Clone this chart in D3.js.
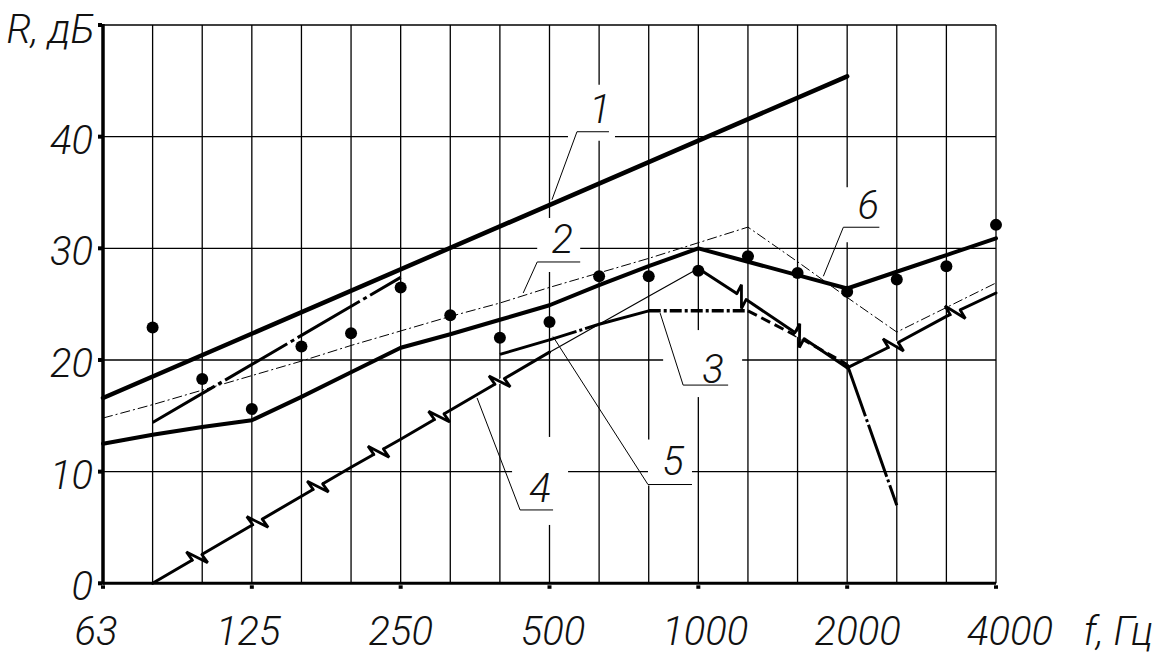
<!DOCTYPE html>
<html><head><meta charset="utf-8">
<script src="https://cdn.jsdelivr.net/npm/d3@7"></script>
<style>html,body{margin:0;padding:0;background:#fff;} svg{display:block;}</style>
</head><body>
<svg id="chart" width="1162" height="657"></svg>
<script>
// ---------- data ----------
const bands = ["63","80","100","125","160","200","250","315","400","500","630","800","1000","1250","1600","2000","2500","3150","4000"];
const xTickLabels = ["63","125","250","500","1000","2000","4000"];
const yTickValues = [0,10,20,30,40];
const yTitle = "R, дБ";
const xTitle = "f, Гц";

// curve 1 (thick straight line)
const curve1 = [["63",16.6],["2000",45.4]];
// curve 2 (thin dash-dot), one value per band
const curve2 = [14.8,16.0,17.3,18.6,19.9,21.3,22.6,23.9,25.1,26.5,27.8,29.1,30.5,31.9,28.8,25.6,22.5,24.7,26.9];
// curve 6 (thick solid), one value per band
const curve6 = [12.5,13.3,14.0,14.6,16.7,18.9,21.1,22.3,23.6,24.9,26.7,28.4,30.0,28.8,27.6,26.4,27.9,29.4,30.9];
// curve 4 (line with break marks + thin part)
const curve4a = [["80",0],["100",2.6],["125",5.2],["160",7.8],["200",10.4],["250",12.9],["315",15.5],["400",18.1],["500",20.7]];
const curve4thin = [["500",20.7],["630",23.2],["800",25.7],["1000",28.2]];
const curve4b = [["1000",28.2],["1250",25.3],["1600",22.3],["2000",19.3]];
const curve4c = [["2000",19.3],["2500",21.5],["3150",23.9],["4000",26.0]];
// curve 3 (solid / dash-dot / dashed parts)
const curve3a = [["400",20.5],["500",21.8],["630",23.2],["800",24.4]];
const curve3b = [["800",24.4],["1000",24.4],["1250",24.4]];
const curve3c = [["1250",24.4],["1600",22.1],["2000",19.6]];
const curve3d = [["2000",19.6],["2500",7.0]];
// unlabeled thick dash-dot line
const curve7 = [["80",14.4],["250",27.4]];
// measured points
const measured = [["80",22.9],["100",18.3],["125",15.6],["160",21.2],["200",22.4],["250",26.5],["315",24.0],["400",22.0],["500",23.4],["630",27.5],["800",27.5],["1000",28.0],["1250",29.3],["1600",27.8],["2000",26.1],["2500",27.2],["3150",28.4],["4000",32.1]];

// callouts: label and the point (band index, value) that its leader touches
const calloutLabels = ["1","2","3","4","5","6"];
const calloutTargets = [[9.05,34.35],[8.47,26.0],[11.23,24.2],[7.54,16.6],[9.07,22.1],[14.52,27.5]];

(function(){
// ---------- layout ----------
const W = 1162, H = 657;
const mLeft = 103, mRight = 996, mTop = 25, mBottom = 583.3;
const FONT = "Roboto, 'Liberation Sans', sans-serif";
const calloutLayout = [
  {dx:25, dy:-68, shelf:32, tx:23, ty:-9, gap:[-9,38,-47,9]},
  {dx:14, dy:-31, shelf:43, tx:25, ty:-9, gap:[0,43,-44,10]},
  {dx:23, dy:72, shelf:45, tx:30, ty:-2, gap:[-20,59,-55,12]},
  {dx:43, dy:112, shelf:33, tx:20, ty:-8, gap:[-8,48,-73,15]},
  {dx:95, dy:148, shelf:44, tx:25, ty:-10, gap:[0,44,-45,1]},
  {dx:20, dy:-49, shelf:36, tx:25, ty:-8, gap:[-3,37,-40,15]}
];

const svg = d3.select("#chart");
svg.append("rect").attr("width",W).attr("height",H).attr("fill","#fff");

const x = d3.scalePoint().domain(bands).range([mLeft, mRight]);
const xi = d3.scaleLinear().domain([0, bands.length-1]).range([mLeft, mRight]);
const y = d3.scaleLinear().domain([0, 50]).range([mBottom, mTop]);

const gGrid = svg.append("g");
const gGap = svg.append("g");
const gData = svg.append("g");
const gAnno = svg.append("g");

gGrid.selectAll("line.v").data(bands.slice(1)).join("line")
  .attr("x1", d=>x(d)).attr("x2", d=>x(d)).attr("y1", y(50)).attr("y2", y(0))
  .attr("stroke","#000").attr("stroke-width",1.3);
gGrid.selectAll("line.h").data([10,20,30,40,50]).join("line")
  .attr("x1", mLeft).attr("x2", mRight).attr("y1", d=>y(d)).attr("y2", d=>y(d))
  .attr("stroke","#000").attr("stroke-width",1.3);

const elbows = calloutTargets.map((t,i)=>{
  const L = calloutLayout[i];
  return {tx: xi(t[0]), ty: y(t[1]), ex: xi(t[0])+L.dx, ey: y(t[1])+L.dy, L};
});
gGap.selectAll("rect").data(elbows).join("rect")
  .attr("x", d=>d.ex+d.L.gap[0]).attr("width", d=>d.L.gap[1]-d.L.gap[0])
  .attr("y", d=>d.ey+d.L.gap[2]).attr("height", d=>d.L.gap[3]-d.L.gap[2])
  .attr("fill","#fff");

svg.append("line").attr("x1",mLeft).attr("x2",mLeft).attr("y1",y(50)-1).attr("y2",mBottom+1.5)
  .attr("stroke","#000").attr("stroke-width",3.5);
svg.append("line").attr("x1",mLeft).attr("x2",mRight).attr("y1",mBottom).attr("y2",mBottom)
  .attr("stroke","#000").attr("stroke-width",3);
svg.selectAll("rect.yt").data([0,10,20,30,40,50]).join("rect").attr("class","yt")
  .attr("x", mLeft-5).attr("y", d=>y(d)-2).attr("width",4).attr("height",4).attr("fill","#000");
svg.selectAll("rect.xt").data(xTickLabels).join("rect").attr("class","xt")
  .attr("x", d=>x(d)-2).attr("y", mBottom+2).attr("width",4).attr("height",3.5).attr("fill","#000");

function txt(sel){
  return sel.attr("font-family",FONT).attr("font-style","italic")
    .attr("font-weight",300).attr("font-size",40).attr("fill","#111");
}
txt(svg.selectAll("text.xl").data(xTickLabels).join("text").attr("class","xl")
  .attr("x", (d,i)=>x(d) - 7 + i*3.5).attr("y", 645).attr("text-anchor","middle")).text(d=>d);
txt(svg.selectAll("text.yl").data(yTickValues).join("text").attr("class","yl")
  .attr("x", 93).attr("y", d=>y(d)+17).attr("text-anchor","end")).text(d=>d);
txt(svg.append("text").attr("x",95).attr("y",43).attr("text-anchor","end")).text(yTitle);
txt(svg.append("text").attr("x",1153).attr("y",645).attr("text-anchor","end")).text(xTitle);

const linePairs = d3.line().x(d=>x(d[0])).y(d=>y(d[1]));
const lineVals = d3.line().x((d,i)=>x(bands[i])).y(d=>y(d));
function draw(path, w, dash, cap){
  const p = gData.append("path").attr("d", path).attr("fill","none").attr("stroke","#000")
    .attr("stroke-width", w).attr("stroke-linejoin","round").attr("stroke-linecap", cap||"butt");
  if (dash) p.attr("stroke-dasharray", dash);
  return p;
}
draw(lineVals(curve2), 1, "10,3,2,3");
draw(linePairs(curve1), 4.5, null, "round");
draw(lineVals(curve6), 4, null, "round");
draw(linePairs(curve7), 3, "72,4,4,4");
draw(linePairs(curve3a), 3, "80,3,3,3");
draw(linePairs(curve3b), 3.5, "12,3,3,3");
draw(linePairs(curve3c), 3, "10,5");
draw(linePairs(curve3d), 3, "55,3,3,3");
draw(linePairs(curve4thin), 1.2);

[curve4a, curve4b, curve4c].forEach(seg=>{
  const p = draw(linePairs(seg), 3, null, "round");
  const node = p.node();
  const L = node.getTotalLength();
  for (let d = 52; d < L - 20; d += 70) {
    const a = node.getPointAtLength(d - 1), b = node.getPointAtLength(d + 1);
    const len = Math.hypot(b.x-a.x, b.y-a.y);
    const ux = (b.x-a.x)/len, uy = (b.y-a.y)/len;
    const nx = uy, ny = -ux;
    const c = node.getPointAtLength(d);
    const P = (s,t)=>[c.x+s*ux+t*nx, c.y+s*uy+t*ny];
    gData.append("line").attr("x1",P(-5,0)[0]).attr("y1",P(-5,0)[1]).attr("x2",P(5,0)[0]).attr("y2",P(5,0)[1])
      .attr("stroke","#fff").attr("stroke-width",4.5);
    gData.append("path").attr("d", d3.line()([P(-6,0),P(-7,10),P(6,-10),P(5,0)]))
      .attr("fill","none").attr("stroke","#000").attr("stroke-width",2.8)
      .attr("stroke-linejoin","miter").attr("stroke-linecap","round");
  }
});

gData.selectAll("circle").data(measured).join("circle")
  .attr("cx", d=>x(d[0])).attr("cy", d=>y(d[1])).attr("r", 6).attr("fill","#000");

elbows.forEach((e,i)=>{
  gAnno.append("path").attr("d", d3.line()([[e.tx,e.ty],[e.ex,e.ey],[e.ex+e.L.shelf,e.ey]]))
    .attr("fill","none").attr("stroke","#000").attr("stroke-width",1);
  txt(gAnno.append("text").attr("x", e.ex+e.L.tx).attr("y", e.ey+e.L.ty)
    .attr("text-anchor","middle")).text(calloutLabels[i]);
});
})();
</script>
</body></html>
